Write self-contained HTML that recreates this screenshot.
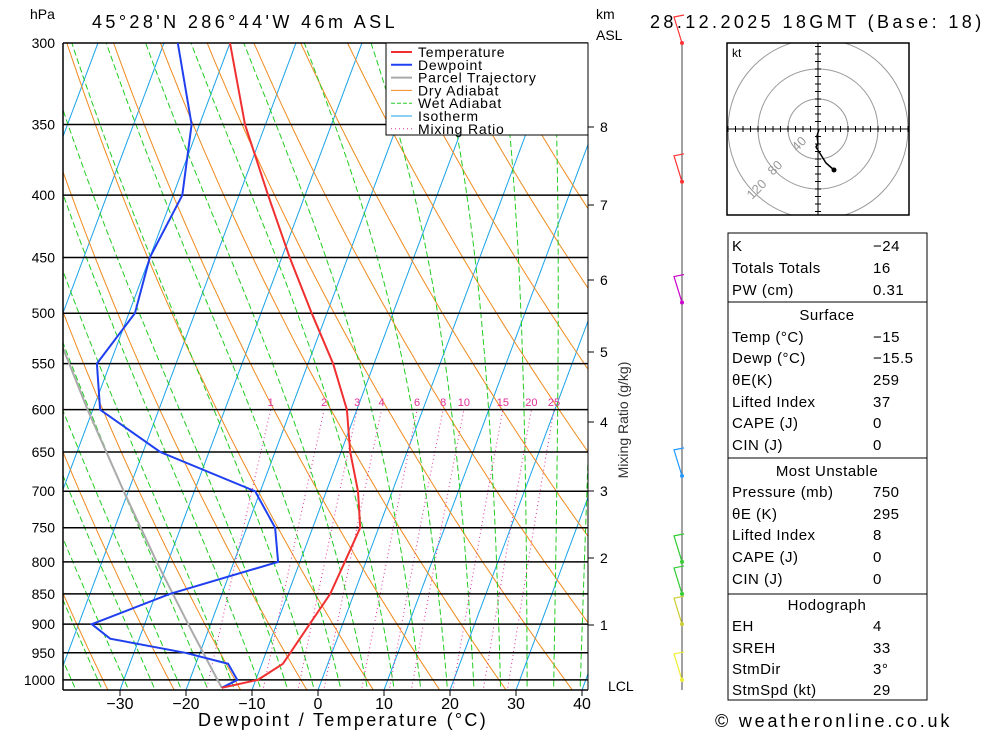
<!DOCTYPE html>
<html><head><meta charset="utf-8"><style>
body{margin:0;background:#fff;font-family:"Liberation Sans",sans-serif}
svg text{font-family:"Liberation Sans",sans-serif}
</style></head><body>
<svg id="c" width="1000" height="733" viewBox="0 0 1000 733">
<defs><clipPath id="pc"><rect x="63" y="43" width="525" height="647"/></clipPath>
<clipPath id="hc"><rect x="727" y="43" width="182" height="172"/></clipPath></defs>
<g id="bg" clip-path="url(#pc)"></g>
<g id="iso"></g>
<g id="ser" clip-path="url(#pc)"></g>
<g id="ax"></g>
<g id="wind"></g>
<g id="hodo"></g>
<g id="tbl"></g>
<text x="30" y="19" font-size="14">hPa</text>
<text x="92" y="28" font-size="18" letter-spacing="3.4">45°28'N  286°44'W  46m  ASL</text>
<text x="596" y="19" font-size="14">km</text>
<text x="596" y="40" font-size="14">ASL</text>
<text x="650" y="28" font-size="18" letter-spacing="3.4">28.12.2025  18GMT  (Base: 18)</text>
<text x="343" y="726" font-size="18" letter-spacing="2.3" text-anchor="middle">Dewpoint / Temperature (°C)</text>
<text x="715" y="727" font-size="18" letter-spacing="2.8">© weatheronline.co.uk</text>
<text transform="translate(628,420) rotate(-90)" font-size="14" text-anchor="middle" fill="#333">Mixing Ratio (g/kg)</text>
</svg>
<script>
const pressures=[1015,1000,970,950,900,850,800,750,700,650,600,550,500,450,400,350,300];
const tempC=[-14.7,-9.7,-6.8,-6.3,-5.0,-3.6,-3.2,-2.8,-5.2,-8.6,-11.5,-16.2,-22.3,-28.8,-35.6,-43.1,-50];
const dewP=[1015,1000,970,950,925,900,850,800,750,700,650,600,550,500,450,400,350,300];
const dewC=[-14.7,-12.8,-15.1,-22.2,-34.4,-38,-27.9,-13.3,-15.7,-20.8,-37.4,-48.9,-52,-49.1,-50,-48.6,-51.2,-57.9];
const parcelP=[1015,1000,900,800,700,600,500,450];
const parcelC=[-14.7,-15.8,-23.4,-31.7,-40.7,-50.8,-62.1,-68.3];
const isobarLabels=[300,350,400,450,500,550,600,650,700,750,800,850,900,950,1000];
const xTicks=[-30,-20,-10,0,10,20,30,40];
const kmTicks=[8,7,6,5,4,3,2,1];
const kmY=[127,205,280,352,422,491,558,625];
const mixRatios=[1,2,3,4,6,8,10,15,20,25];
const windP=[300,390,490,680,800,850,900,1000];
const windColors=['#f33','#f33','#c0c','#29f','#3c3','#3c3','#cc3','#ee3'];
const S='http://www.w3.org/2000/svg';
function el(tag,at,par){const e=document.createElementNS(S,tag);for(const k in at)e.setAttribute(k,at[k]);par.appendChild(e);return e;}
function yP(p){return 43+529*Math.log(p/300);}
function xT(t,p){return 318+6.6*t+0.374*(690-yP(p));}
const bg=document.getElementById('bg');
for(let t=-120;t<=40;t+=10){const l=el('line',{x1:xT(t,1030),y1:yP(1030),x2:xT(t,280),y2:yP(280),stroke:'#1aa3e8','stroke-width':1},bg);

}
for(let th=230;th<=480;th+=10){let d='';for(let p=1030;p>=280;p-=10){const t=th*Math.pow(p/1000,0.286)-273.15;d+=(d?'L':'M')+xT(t,p).toFixed(1)+','+yP(p).toFixed(1);}
const l=el('path',{d:d,fill:'none',stroke:'#f08a1e','stroke-width':1},bg);

}
for(let t0=-36;t0<=40;t0+=4){let T=t0+273.15,d='';for(let p=1030;p>=280;p-=5){d+=(d?'L':'M')+xT(T-273.15,p).toFixed(1)+','+yP(p).toFixed(1);
const Tc=T-273.15,es=6.112*Math.exp(17.67*Tc/(Tc+243.5)),rs=0.622*es/(p-es);
const dTdp=(287*T+2.5e6*rs)/(p*(1004+2.5e6*2.5e6*rs*0.622/(287*T*T)));T-=dTdp*5;}
const l=el('path',{d:d,fill:'none',stroke:'#22cc22','stroke-width':1,'stroke-dasharray':'6,3'},bg);

}
const ax=document.getElementById('ax');
mixRatios.forEach(w=>{let d='';for(let p=1030;p>=600;p-=10){const e=w*p/(622+w);const a=Math.log(e/6.112);const t=243.5*a/(17.67-a);d+=(d?'L':'M')+xT(t,p).toFixed(1)+','+yP(p).toFixed(1);}
const l=el('path',{d:d,fill:'none',stroke:'#e0309a','stroke-width':1,'stroke-dasharray':'1,3'},bg);


const e=w*600/(622+w),a=Math.log(e/6.112),t=243.5*a/(17.67-a);
const tx=el('text',{x:xT(t,600),y:406,'font-size':11,fill:'#e0309a','text-anchor':'middle'},ax);tx.textContent=w;

});
const iso=document.getElementById('iso');
isobarLabels.forEach(p=>{const y=yP(p);const l=el('line',{x1:63,y1:y,x2:588,y2:y,stroke:'#000','stroke-width':1.5},iso);


const t=el('text',{x:55,y:y+5,'font-size':14,'text-anchor':'end'},iso);t.textContent=p;

});
const ser=document.getElementById('ser');
function line(P,T,col,w,name){const d=P.map((p,i)=>(i?'L':'M')+xT(T[i],p).toFixed(1)+','+yP(p).toFixed(1)).join('');
const l=el('path',{d:d,fill:'none',stroke:col,'stroke-width':w},ser);

}
line(parcelP,parcelC,'#aaa',2,'parcel-trajectory');
line(dewP,dewC,'#2040f0',2,'dewpoint-line');
line(pressures,tempC,'#f03030',2,'temperature-line');
el('line',{x1:63,y1:43,x2:63,y2:690,stroke:'#000','stroke-width':1.5},ax);
el('line',{x1:63,y1:690,x2:588,y2:690,stroke:'#000','stroke-width':1.5},ax);
el('line',{x1:588,y1:43,x2:588,y2:690,stroke:'#000','stroke-width':1},ax);
xTicks.forEach(t=>{const x=318+6.6*t;el('line',{x1:x,y1:690,x2:x,y2:696,stroke:'#000'},ax);
const tx=el('text',{x:x,y:709,'font-size':16,'text-anchor':'middle'},ax);tx.textContent=(t<0?'\u2212':'')+Math.abs(t);

});
kmTicks.forEach((k,i)=>{el('line',{x1:588,y1:kmY[i],x2:594,y2:kmY[i],stroke:'#000'},ax);
const t=el('text',{x:600,y:kmY[i]+5,'font-size':14},ax);t.textContent=k;

});
const lcl=el('text',{x:608,y:691,'font-size':14},ax);lcl.textContent='LCL';


const lg=el('g',{},ax);
el('rect',{x:386,y:43,width:202,height:92,fill:'#fff',stroke:'#000'},lg);
[['Temperature','#f03030',2,''],['Dewpoint','#2040f0',2,''],['Parcel Trajectory','#aaa',2,''],['Dry Adiabat','#f08a1e',1,''],['Wet Adiabat','#22cc22',1,'4,2'],['Isotherm','#1aa3e8',1,''],['Mixing Ratio','#e0309a',1,'1,3']].forEach((r,i)=>{const y=52+i*12.8;
el('line',{x1:391,y1:y,x2:412,y2:y,stroke:r[1],'stroke-width':r[2],'stroke-dasharray':r[3]},lg);
const t=el('text',{x:418,y:y+5,'font-size':14,'letter-spacing':0.8},lg);t.textContent=r[0];

});
const wg=document.getElementById('wind');
el('line',{x1:682,y1:43,x2:682,y2:690,stroke:'#444','stroke-width':1},wg);
windP.forEach((p,i)=>{const y=yP(p);el('circle',{cx:682,cy:y,r:2,fill:windColors[i]},wg);
const b=el('polyline',{points:`682,${y} ${674},${y-26} ${684},${y-28}`,fill:'none',stroke:windColors[i],'stroke-width':1.2},wg);

});
const h=document.getElementById('hodo');
const hg=el('g',{'clip-path':'url(#hc)'},h);
[30,60,90].forEach(r=>el('circle',{cx:818,cy:129,r:r,fill:'none',stroke:'#999'},hg));
el('line',{x1:727,y1:129,x2:909,y2:129,stroke:'#000'},hg);el('line',{x1:818,y1:43,x2:818,y2:215,stroke:'#000'},hg);
for(let i=-12;i<=12;i++){el('line',{x1:818+i*7.5,y1:126,x2:818+i*7.5,y2:132,stroke:'#000'},hg);el('line',{x1:815,y1:129+i*7.5,x2:821,y2:129+i*7.5,stroke:'#000'},hg);}
el('rect',{x:727,y:43,width:182,height:172,fill:'none',stroke:'#000','stroke-width':1.5},h);
[['40',797,152],['80',773,176],['120',752,200]].forEach(a=>{const t=el('text',{x:a[1],y:a[2],'font-size':13,fill:'#999',transform:`rotate(-45 ${a[1]} ${a[2]})`},h);t.textContent=a[0];});
const kt=el('text',{x:732,y:57,'font-size':12},h);kt.textContent='kt';
el('polyline',{points:'819,129 817,136 818,143 816,147 821,155 826,163 834,170',fill:'none',stroke:'#000','stroke-width':1.5},h);
el('circle',{cx:834,cy:170,r:2.5,fill:'#000'},h);
const tb=document.getElementById('tbl');
function box(y1,y2){el('rect',{x:728,y:y1,width:199,height:y2-y1,fill:'none',stroke:'#000'},tb);}
box(233,302);box(302,458);box(458,594);box(594,700);
function row(y,a,b){const t=el('text',{x:732,y:y,'font-size':15,'letter-spacing':0.5},tb);t.textContent=a;const v=el('text',{x:873,y:y,'font-size':15,'letter-spacing':0.5},tb);v.textContent=b;
}
function head(y,a){const t=el('text',{x:827,y:y,'font-size':15,'text-anchor':'middle','letter-spacing':0.5},tb);t.textContent=a;}
row(251,'K','\u221224');row(273,'Totals Totals','16');row(295,'PW (cm)','0.31');
head(320,'Surface');row(342,'Temp (°C)','\u221215');row(363,'Dewp (°C)','\u221215.5');row(385,'θE(K)','259');row(407,'Lifted Index','37');row(428,'CAPE (J)','0');row(450,'CIN (J)','0');
head(476,'Most Unstable');row(497,'Pressure (mb)','750');row(519,'θE (K)','295');row(540,'Lifted Index','8');row(562,'CAPE (J)','0');row(584,'CIN (J)','0');
head(610,'Hodograph');row(631,'EH','4');row(653,'SREH','33');row(674,'StmDir','3°');row(695,'StmSpd (kt)','29');
</script>
</body></html>
